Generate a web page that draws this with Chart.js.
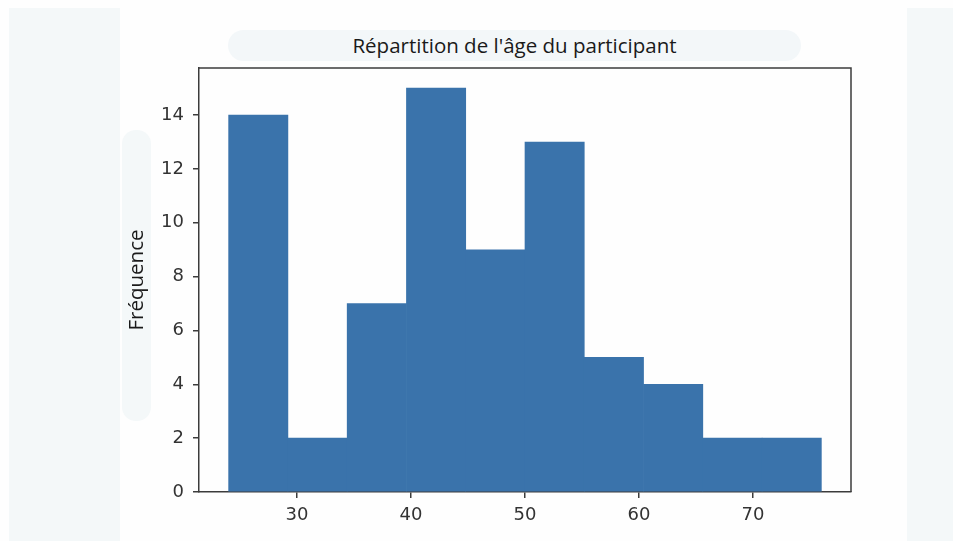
<!DOCTYPE html>
<html lang="fr">
<head>
<meta charset="utf-8">
<script src="https://cdn.jsdelivr.net/npm/chart.js@4/dist/chart.umd.min.js"></script>
<style>
  html, body { margin: 0; padding: 0; background: #fefefe; }
  #wrap { position: relative; width: 953px; height: 541px; overflow: hidden; }
  .panel { position: absolute; background: #f4f8f9; }
  #leftPanel { left: 9px; top: 8px; width: 111px; height: 533px; }
  #rightPanel { left: 907px; top: 8px; width: 46px; height: 533px; }
  #titlePill { left: 228px; top: 30px; width: 573px; height: 31px; border-radius: 16px; background: #f3f7f9; }
  #ylabelPill { left: 122px; top: 130px; width: 29px; height: 291px; border-radius: 14px; background: #f4f8f9; }
  #title { position: absolute; left: 228px; top: 30px; width: 573px; height: 31px; line-height: 31px;
           text-align: center; font-family: "Open Sans", sans-serif; font-size: 20.5px; color: #1a1a1a; }
  canvas { position: absolute; left: 0; top: 0; }
</style>
</head>
<body>
<div id="wrap">
  <div class="panel" id="leftPanel"></div>
  <div class="panel" id="rightPanel"></div>
  <div class="panel" id="titlePill"></div>
  <div class="panel" id="ylabelPill"></div>
  <div id="title">Répartition de l'âge du participant</div>
  <canvas id="chart" width="953" height="541"></canvas>
</div>
<script>
// Histogram of participant ages: bin edges and the count in each bin
const binEdges = [24, 29.2, 34.4, 39.6, 44.8, 50, 55.2, 60.4, 65.6, 70.8, 76];
const counts = [14, 2, 7, 15, 9, 13, 5, 4, 2, 2];
const xTickValues = [30, 40, 50, 60, 70];
const yTickValues = [0, 2, 4, 6, 8, 10, 12, 14];
const yLabel = 'Fréquence';

const bars = counts.map((c, i) => ({ x: (binEdges[i] + binEdges[i + 1]) / 2, y: c }));

const spanX = binEdges[binEdges.length - 1] - binEdges[0];
const xMin = binEdges[0] - spanX * 0.05;
const xMax = binEdges[binEdges.length - 1] + spanX * 0.05;
const yMax = Math.max(...counts) * 1.05;

const axisColor = '#3c3c3c';
const tickFont = { family: '"DejaVu Sans", sans-serif', size: 18 };

// Closes the frame: top and right spines around the plot area
const frame = {
  id: 'frame',
  afterDraw(chart) {
    const { ctx, chartArea: a } = chart;
    ctx.save();
    ctx.strokeStyle = axisColor;
    ctx.lineWidth = 1.5;
    ctx.beginPath();
    ctx.moveTo(a.left, a.top);
    ctx.lineTo(a.right, a.top);
    ctx.lineTo(a.right, a.bottom);
    ctx.stroke();
    ctx.restore();
  }
};

new Chart(document.getElementById('chart'), {
  type: 'bar',
  data: {
    datasets: [{
      data: bars,
      backgroundColor: '#3a73ab',
      borderWidth: 0,
      barPercentage: 1,
      categoryPercentage: 1,
      grouped: false
    }]
  },
  options: {
    responsive: false,
    animation: false,
    layout: { padding: { left: 119, top: 68, right: 102, bottom: 9 } },
    plugins: { legend: { display: false }, tooltip: { enabled: false }, title: { display: false } },
    scales: {
      x: {
        type: 'linear',
        min: xMin,
        max: xMax,
        offset: false,
        afterBuildTicks: s => { s.ticks = xTickValues.map(v => ({ value: v })); },
        afterFit: s => { s.height = 40; },
        ticks: { font: tickFont, color: '#333', padding: 7, maxRotation: 0, autoSkip: false },
        grid: { offset: false, drawOnChartArea: false, drawTicks: true, tickLength: 6, color: axisColor, lineWidth: 1.5 },
        border: { display: true, color: axisColor, width: 1.5 }
      },
      y: {
        min: 0,
        max: yMax,
        afterBuildTicks: s => { s.ticks = yTickValues.map(v => ({ value: v })); },
        afterFit: s => { s.width = 80; },
        ticks: { font: tickFont, color: '#333', padding: 9, autoSkip: false },
        grid: { drawOnChartArea: false, drawTicks: true, tickLength: 6, color: axisColor, lineWidth: 1.5 },
        border: { display: true, color: axisColor, width: 1.5 },
        title: {
          display: true,
          text: yLabel,
          color: '#1a1a1a',
          font: { family: '"Open Sans", sans-serif', size: 20.5 },
          padding: { top: 6, bottom: 0 }
        }
      }
    }
  },
  plugins: [frame]
});
</script>
</body>
</html>
